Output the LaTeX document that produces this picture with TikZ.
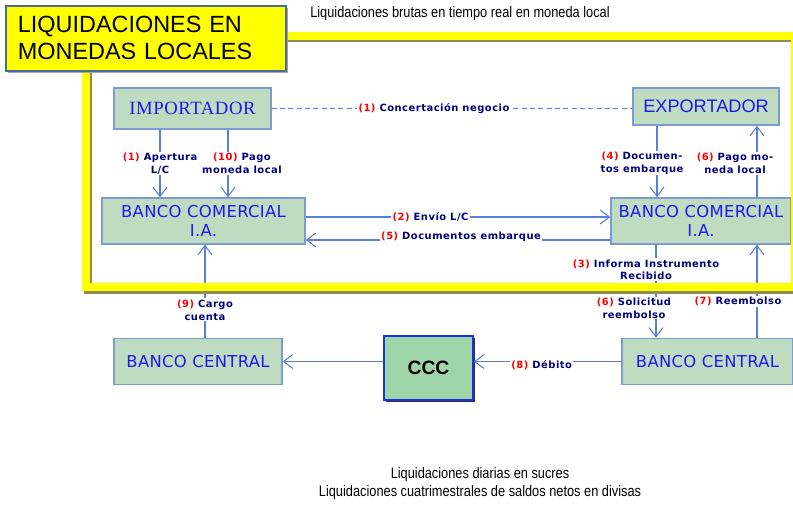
\documentclass[tikz,border=0pt]{standalone}
\usepackage{fontspec}
\setmainfont{Liberation Sans}
\newfontfamily\narrowfont[FakeStretch=0.84]{Liberation Sans}
\newfontfamily\boxfont[LetterSpace=2]{DejaVu Sans}
\newfontfamily\serifbox[LetterSpace=3]{Liberation Serif}
\newfontfamily\lblfont[LetterSpace=5]{DejaVu Sans}
\usetikzlibrary{arrows.meta, calc, shadows}
\definecolor{cbox}{HTML}{C0DCC0}
\definecolor{cedge}{HTML}{7B9BD6}
\definecolor{ctext}{HTML}{1A1AF0}
\definecolor{cline}{HTML}{5A7FD8}
\definecolor{cnavy}{HTML}{00007A}
\definecolor{cred}{HTML}{FF0000}
\definecolor{cyellow}{HTML}{FFFF00}
\definecolor{cshade}{HTML}{8C8C55}
\definecolor{ctitle}{HTML}{4B6B99}
\definecolor{cccfill}{HTML}{9FD5A9}
\definecolor{cccedge}{HTML}{1F2FE0}
\newcommand{\nr}[1]{\textcolor{cred}{#1}}
\tikzset{
  box/.style={draw=cedge, fill=cbox, text=ctext, line width=1.2pt, align=center, inner sep=0pt,
    font=\boxfont\fontsize{14}{16}\selectfont},
  lbl/.style={fill=white, inner sep=1pt, align=center, text=cnavy,
    font=\lblfont\bfseries\fontsize{8.5}{11}\selectfont},
  arrow/.style={-{Straight Barb[length=2.8mm, width=4.2mm]}, draw=cline, line width=0.9pt},
  link/.style={draw=cline, line width=0.9pt},
  frame/.style={draw=cyellow, line width=0.24cm},
  caption/.style={font=\narrowfont\fontsize{13}{15.5}\selectfont, align=center},
}

\begin{document}
\begin{tikzpicture}[x=0.03cm, y=-0.03cm]
  \clip (0,0) rectangle (793,506);
  % parties and banks
  \node[box, font=\serifbox\fontsize{16}{18}\selectfont, minimum width=4.71cm, minimum height=1.23cm] (imp) at (192.5,108.5) {IMPORTADOR};
  \node[box, font=\fontsize{15.5}{18}\selectfont, minimum width=4.38cm, minimum height=1.11cm] (exp) at (706,106.5) {EXPORTADOR};
  \node[box, minimum width=6.09cm, minimum height=1.38cm] (bcl) at (203.5,221) {BANCO COMERCIAL\\I.A.};
  \node[box, minimum width=5.4cm, minimum height=1.38cm] (bcr) at (701,221) {BANCO COMERCIAL\\I.A.};
  \node[box, minimum width=5.04cm, minimum height=1.38cm] (bcentl) at (198,361.5) {BANCO CENTRAL};
  \node[box, minimum width=5.13cm, minimum height=1.38cm] (bcentr) at (707.5,361.5) {BANCO CENTRAL};
  \node[draw=cccedge, fill=cccfill, line width=1.5pt, minimum width=2.67cm, minimum height=1.92cm,
    font=\bfseries\fontsize{16.5}{18}\selectfont,
    drop shadow={shadow xshift=0.07cm, shadow yshift=-0.07cm, fill=black!80, opacity=1}] (ccc) at (428.5,368) {CCC};

  % flows
  \draw[link, dash pattern=on 1.5mm off 1mm] (imp.east) -- (imp.east -| exp.west) node[lbl, pos=0.45] {\nr{(1)} Concertación negocio};
  \draw[arrow] (imp.south -| 160,0) -- (bcl.north -| 160,0) node[lbl, pos=0.5] {\nr{(1)} Apertura\\L/C};
  \draw[arrow] (imp.south -| 228,0) -- (bcl.north -| 228,0) node[lbl, pos=0.5, xshift=0.42cm] {\nr{(10)} Pago\\moneda local};
  \draw[arrow] (exp.south -| 657,0) -- (bcr.north -| 657,0) node[lbl, pos=0.52, xshift=-0.45cm] {\nr{(4)} Documen-\\tos embarque};
  \draw[arrow] (bcr.north -| 757,0) -- (exp.south -| 757,0) node[lbl, pos=0.47, xshift=-0.66cm] {\nr{(6)} Pago mo-\\neda local};
  \draw[arrow] ([yshift=0.12cm]bcl.east) -- ([yshift=0.12cm]bcr.west) node[lbl, pos=0.41] {\nr{(2)} Envío L/C};
  \draw[arrow] ([yshift=-0.57cm]bcr.west) -- ([yshift=-0.57cm]bcl.east) node[lbl, pos=0.49, yshift=0.09cm] {\nr{(5)} Documentos embarque};
  \draw[arrow] (bcr.south -| 656,0) -- (bcentr.north -| 656,0)
    node[lbl, pos=0.27, xshift=-0.3cm] {\nr{(3)} Informa Instrumento\\Recibido}
    node[lbl, pos=0.68, xshift=-0.66cm] {\nr{(6)} Solicitud\\reembolso};
  \draw[arrow] (bcentr.north -| 757,0) -- (bcr.south -| 757,0) node[lbl, pos=0.39, xshift=-0.57cm] {\nr{(7)} Reembolso};
  \draw[arrow] (bcentr.west) -- (bcentr.west -| ccc.east) node[lbl, pos=0.54, yshift=-0.1cm] {\nr{(8)} Débito};
  \draw[arrow] (bcentl.east -| ccc.west) -- (bcentl.east);
  \draw[arrow] (bcentl.north -| 205,0) -- (bcl.south -| 205,0) node[lbl, pos=0.3] {\nr{(9)} Cargo\\cuenta};

  % yellow frame and title
  \draw[frame, draw=cshade] (88,38.5) rectangle (797,289.5);
  \draw[frame] (86,36) rectangle (795,287);
  \node[anchor=north west, fill=cyellow, draw=ctitle, line width=1.5pt, text width=7.68cm, inner xsep=0.36cm,
    minimum height=1.95cm, align=left, font=\fontsize{20}{23}\selectfont,
    drop shadow={shadow xshift=0.05cm, shadow yshift=-0.05cm, fill=black!35, opacity=1}] (title) at (5,5)
    {LIQUIDACIONES EN\\MONEDAS LOCALES};
  \node[caption] (rtgs) at (460,14) {Liquidaciones brutas en tiempo real en moneda local};
  \node[caption, font=\narrowfont\fontsize{13}{15.3}\selectfont] (net) at (480,484)
    {Liquidaciones diarias en sucres\\Liquidaciones cuatrimestrales de saldos netos en divisas};
\end{tikzpicture}
\end{document}
